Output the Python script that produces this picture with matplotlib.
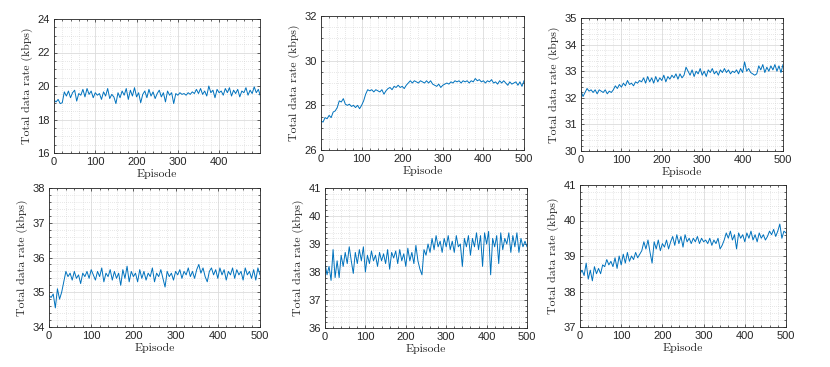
import numpy as np
import matplotlib
matplotlib.use("Agg")
import matplotlib.pyplot as plt
from matplotlib.ticker import MultipleLocator

episodes = np.arange(0, 501, 5)

rate_a = [19.15, 19.05, 19.2, 18.95, 19.0, 19.65, 19.4, 19.7, 19.3, 19.6, 19.75, 19.1, 19.55, 19.45, 19.8, 19.35, 19.85, 19.5, 19.7, 19.3,
          19.6, 19.45, 19.55, 19.2, 19.65, 19.4, 19.85, 19.25, 19.5, 19.35, 18.95, 19.6, 19.3, 19.7, 19.45, 19.85, 19.2, 19.75, 19.4, 19.9,
          19.35, 19.6, 19.0, 19.5, 19.7, 19.3, 19.8, 19.4, 19.65, 19.25, 19.55, 19.75, 19.35, 19.6, 19.05, 19.7, 19.45, 19.6, 18.95, 19.55,
          19.45, 19.6, 19.5, 19.55, 19.45, 19.6, 19.5, 19.65, 19.55, 19.8, 19.55, 19.85, 19.5, 19.7, 19.4, 20.0, 19.6, 19.75, 19.3, 19.8,
          19.6, 19.7, 19.45, 19.85, 19.6, 19.9, 19.4, 19.75, 19.55, 19.8, 19.35, 19.7, 19.6, 19.9, 19.45, 19.75, 19.55, 19.95, 19.6, 19.8, 19.4]

rate_b = [27.3, 27.25, 27.45, 27.4, 27.55, 27.45, 27.7, 27.75, 27.9, 28.2, 28.15, 28.3, 28.05, 28.0, 28.05, 27.95, 28.0, 27.9, 28.0, 27.85,
          28.0, 28.2, 28.5, 28.7, 28.65, 28.7, 28.6, 28.7, 28.65, 28.6, 28.7, 28.5, 28.65, 28.75, 28.8, 28.7, 28.85, 28.8, 28.9, 28.8,
          28.85, 28.75, 28.9, 29.0, 29.1, 29.0, 29.1, 29.05, 29.0, 29.1, 29.05, 29.0, 29.1, 29.0, 29.1, 28.95, 28.9, 28.85, 28.95, 28.8,
          28.9, 28.95, 29.0, 28.95, 29.05, 29.0, 29.1, 29.05, 29.1, 29.0, 29.1, 29.05, 29.1, 29.0, 29.1, 29.05, 29.2, 29.1, 29.15, 29.05,
          29.1, 29.0, 29.1, 29.05, 29.15, 29.0, 29.05, 28.95, 29.1, 29.0, 29.1, 29.0, 28.9, 29.05, 28.95, 29.0, 29.05, 28.9, 29.05, 28.85, 29.1]

rate_c = [32.25, 32.05, 32.2, 32.35, 32.25, 32.3, 32.2, 32.3, 32.15, 32.3, 32.25, 32.2, 32.3, 32.15, 32.25, 32.2, 32.3, 32.45, 32.35, 32.5,
          32.4, 32.55, 32.45, 32.65, 32.5, 32.55, 32.45, 32.6, 32.55, 32.65, 32.6, 32.75, 32.55, 32.8, 32.6, 32.75, 32.55, 32.8, 32.6, 32.75,
          32.65, 32.85, 32.6, 32.8, 32.7, 32.85, 32.75, 32.9, 32.7, 32.9, 32.75, 32.85, 33.15, 33.0, 32.85, 33.05, 32.8, 33.0, 32.9, 33.1,
          32.85, 33.0, 32.8, 33.05, 32.95, 33.1, 32.9, 33.0, 32.85, 33.05, 32.95, 33.1, 32.95, 33.05, 32.9, 33.0, 32.95, 33.05, 32.9, 33.1,
          32.95, 33.35, 33.0, 33.1, 32.95, 32.9, 32.85, 32.9, 33.2, 33.05, 33.25, 32.95, 33.15, 33.0, 33.2, 33.05, 33.25, 33.0, 33.2, 32.95, 33.25]

rate_d = [34.9, 34.85, 34.95, 34.55, 35.1, 34.8, 35.0, 35.3, 35.6, 35.45, 35.55, 35.35, 35.6, 35.4, 35.5, 35.25, 35.55, 35.45, 35.6, 35.4,
          35.65, 35.5, 35.35, 35.6, 35.45, 35.7, 35.3, 35.55, 35.45, 35.65, 35.35, 35.6, 35.4, 35.55, 35.2, 35.65, 35.4, 35.75, 35.3, 35.6,
          35.45, 35.55, 35.3, 35.65, 35.4, 35.6, 35.35, 35.55, 35.45, 35.7, 35.3, 35.55, 35.45, 35.65, 35.4, 35.15, 35.6, 35.45, 35.55, 35.35,
          35.6, 35.5, 35.65, 35.4, 35.6, 35.5, 35.7, 35.45, 35.6, 35.4, 35.65, 35.8, 35.55, 35.7, 35.45, 35.3, 35.6, 35.7, 35.5, 35.65,
          35.4, 35.7, 35.5, 35.65, 35.35, 35.6, 35.5, 35.7, 35.4, 35.65, 35.5, 35.6, 35.35, 35.7, 35.5, 35.6, 35.4, 35.65, 35.35, 35.7, 35.5]

rate_e = [38.3, 37.9, 38.2, 37.7, 38.8, 37.8, 38.4, 37.8, 38.6, 38.2, 38.7, 38.3, 38.9, 38.4, 37.95, 38.7, 38.3, 38.8, 38.4, 38.9,
          38.0, 38.6, 38.3, 38.75, 38.4, 38.6, 38.2, 38.7, 38.4, 38.65, 38.3, 38.8, 38.1, 38.7, 38.5, 38.75, 38.3, 38.8, 38.4, 38.65,
          38.2, 38.85, 38.4, 38.7, 38.3, 38.95, 38.4, 38.1, 37.9, 38.8, 38.6, 39.0, 38.7, 39.2, 38.8, 39.3, 38.9, 39.1, 38.7, 39.2,
          38.9, 39.3, 38.8, 39.1, 38.7, 39.3, 38.9, 39.0, 38.2, 39.2, 38.9, 39.3, 38.6, 39.2, 38.9, 39.4, 38.8, 39.3, 38.2, 39.4,
          39.0, 39.45, 37.9, 39.2, 38.9, 39.3, 38.3, 39.4, 38.8, 39.2, 39.0, 39.4, 38.7, 39.3, 38.9, 39.4, 38.7, 39.2, 38.9, 39.1, 38.9]

rate_f = [38.5, 38.6, 38.45, 38.8, 38.35, 38.6, 38.3, 38.7, 38.5, 38.65, 38.5, 38.75, 38.7, 38.9, 38.75, 38.85, 38.7, 38.95, 38.65, 39.0,
          38.75, 39.05, 38.8, 39.1, 38.85, 39.0, 38.9, 39.1, 38.95, 39.05, 39.15, 39.4, 39.2, 39.45, 39.1, 38.8, 39.4, 39.2, 39.45, 39.15,
          39.35, 39.25, 39.45, 39.2, 39.4, 39.55, 39.3, 39.6, 39.35, 39.55, 39.25, 39.6, 39.4, 39.5, 39.35, 39.5, 39.4, 39.55, 39.35, 39.5,
          39.4, 39.45, 39.35, 39.5, 39.3, 39.45, 39.35, 39.5, 39.2, 39.3, 39.45, 39.65, 39.5, 39.7, 39.45, 39.6, 39.2, 39.65, 39.5, 39.6,
          39.4, 39.65, 39.5, 39.7, 39.45, 39.6, 39.4, 39.65, 39.5, 39.6, 39.45, 39.55, 39.7, 39.6, 39.75, 39.55, 39.7, 39.9, 39.5, 39.7, 39.65]

series = [rate_a, rate_b, rate_c, rate_d, rate_e, rate_f]
ylims = [(16, 24), (26, 32), (30, 35), (34, 38), (36, 41), (37, 41)]
ysteps = [2, 2, 1, 1, 1, 1]
xmaxs = [499, 500, 500, 500, 500, 500]

W, H = 830, 367
boxes = [(54, 19, 260, 153), (321, 16, 524, 150), (581, 18, 783, 151),
         (49, 188, 260, 327), (325, 188, 527, 328), (580, 185, 786, 327)]

fig = plt.figure(figsize=(W / 100, H / 100), dpi=100)
axcol = "#262626"
for data, yl, ys, xm, (l, t, r, b) in zip(series, ylims, ysteps, xmaxs, boxes):
    ax = fig.add_axes([l / W, 1 - b / H, (r - l) / W, (b - t) / H])
    ax.plot(episodes, data, color="#0072BD", lw=0.7)
    ax.set_xlim(0, xm)
    ax.set_ylim(*yl)
    ax.xaxis.set_major_locator(MultipleLocator(100))
    ax.xaxis.set_minor_locator(MultipleLocator(20))
    ax.yaxis.set_major_locator(MultipleLocator(ys))
    ax.yaxis.set_minor_locator(MultipleLocator(0.5 if ys == 2 else 0.2))
    ax.grid(which="major", color="#dcdcdc", lw=0.6)
    ax.grid(which="minor", color="#d0d0d0", lw=0.5, ls=(0, (1, 2)))
    ax.set_axisbelow(True)
    for s in ax.spines.values():
        s.set_color(axcol)
        s.set_linewidth(0.6)
    ax.tick_params(which="both", direction="in", top=True, right=True, colors=axcol,
                   labelsize=8, length=2.5, width=0.5, pad=3)
    ax.tick_params(which="minor", length=1.5)
    for lab in ax.get_xticklabels() + ax.get_yticklabels():
        lab.set_fontfamily("Liberation Sans")
    ax.set_xlabel("Episode", fontfamily="cmr10", fontsize=8.5, color=axcol, labelpad=1)
    ax.set_ylabel("Total data rate (kbps)", fontfamily="cmr10", fontsize=8.5, color=axcol, labelpad=3)

fig.savefig("out.png", dpi=100)
